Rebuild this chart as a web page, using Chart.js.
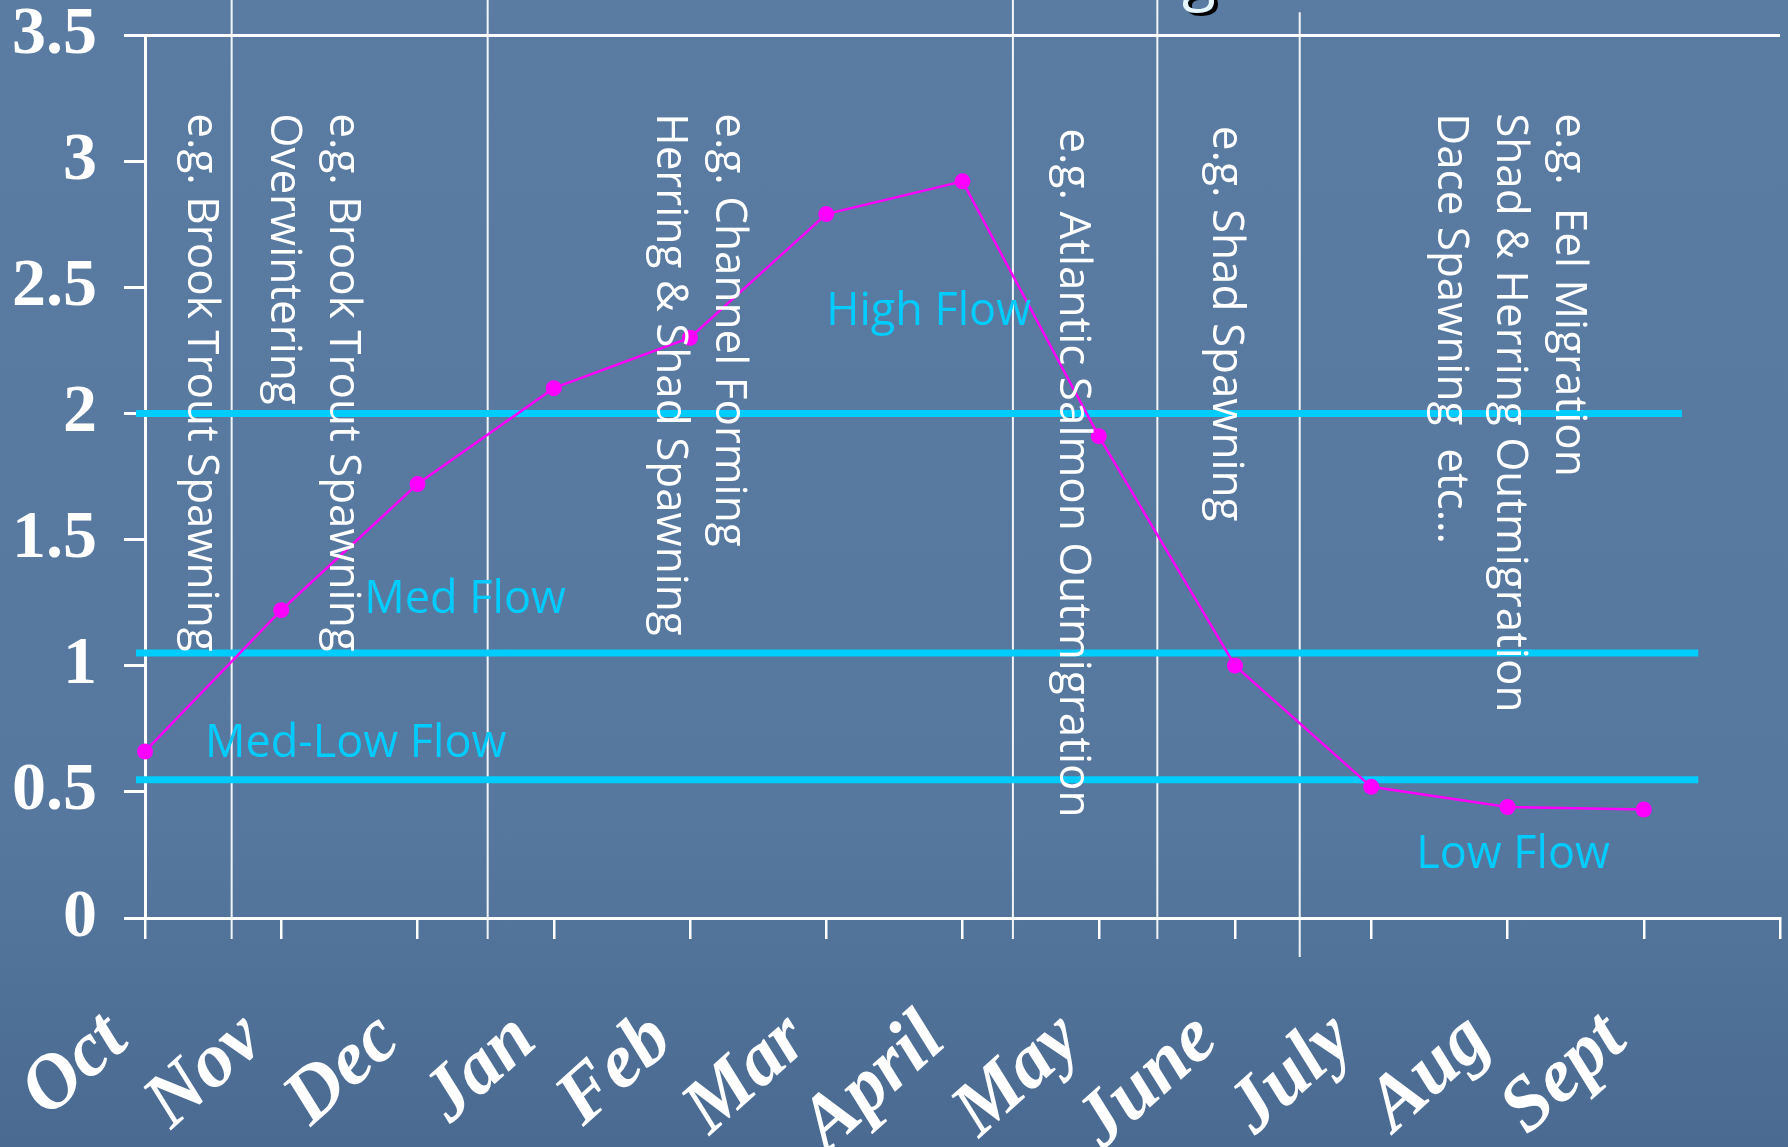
<!DOCTYPE html>
<html>
<head>
<meta charset="utf-8">
<script src="https://cdn.jsdelivr.net/npm/chart.js@4.4.1/dist/chart.umd.min.js"></script>
<style>
  html, body { margin: 0; padding: 0; }
  body {
    width: 1788px; height: 1147px; overflow: hidden;
    background: linear-gradient(180deg, #5a7ca2 0%, #56789e 72%, #4a6a91 100%);
  }
  #wrap { position: relative; width: 1788px; height: 1147px; }
</style>
</head>
<body>
<div id="wrap"><canvas id="c" width="1788" height="1147"></canvas></div>
<script>
// ---- data ----
const months = ['Oct', 'Nov', 'Dec', 'Jan', 'Feb', 'Mar', 'April', 'May', 'June', 'July', 'Aug', 'Sept', ''];
const flowValues = [0.66, 1.22, 1.72, 2.10, 2.30, 2.79, 2.92, 1.91, 1.00, 0.52, 0.44, 0.43];

const thresholdLevels = [2.0, 1.05, 0.548];
const thresholdStart = [-0.066, -0.066, -0.066];
const thresholdEnd = [11.28, 11.40, 11.40];

const flowLabels = ['High Flow', 'Med Flow', 'Med-Low Flow', 'Low Flow'];
const flowLabelX = [5.0, 1.61, 0.44, 9.33];
const flowLabelY = [2.35, 1.21, 0.64, 0.20];

const separatorX = [0.636, 2.515, 6.37, 7.43, 8.475];
const separatorTop = [3.64, 3.64, 3.64, 3.64, 3.59];
const separatorBottom = [-0.083, -0.083, -0.083, -0.083, -0.155];

const speciesNotes = [
  ['e.g. Brook Trout Spawning'],
  ['e.g. Brook Trout Spawning', 'Overwintering'],
  ['e.g. Channel Forming', 'Herring & Shad Spawning'],
  ['e.g. Atlantic Salmon Outmigration'],
  ['e.g. Shad Spawning'],
  ['e.g.  Eel Migration', 'Shad & Herring Outmigration', 'Dace Spawning  etc\u2026']
];
const noteX = [0.41, 1.45, 4.28, 6.81, 7.93, 10.45];
const noteTopY = [3.19, 3.19, 3.19, 3.13, 3.14, 3.19];

const titleFragment = 'g';

// ---- styles ----
const WHITE = '#ffffff';
const CYAN = '#00ccff';
const MAGENTA = '#ff00ff';
const NOTE_FONT = '44px "Open Sans", "DejaVu Sans", sans-serif';
const FLOW_FONT = '45px "Open Sans", "DejaVu Sans", sans-serif';
const TITLE_FONT = '62px "Open Sans", "DejaVu Sans", sans-serif';
const NOTE_LINE_GAP = 59;
const SERIF = '"Liberation Serif", "Times New Roman", serif';

const datasets = [];

separatorX.forEach((sx, i) => {
  datasets.push({
    type: 'line',
    data: [{ x: sx, y: separatorTop[i] }, { x: sx, y: separatorBottom[i] }],
    borderColor: 'rgba(255,255,255,0.92)',
    borderWidth: 2,
    pointRadius: 0,
    clip: false,
    order: 3
  });
});

thresholdLevels.forEach((lv, i) => {
  datasets.push({
    type: 'line',
    data: [{ x: thresholdStart[i], y: lv }, { x: thresholdEnd[i], y: lv }],
    borderColor: CYAN,
    borderWidth: 7,
    pointRadius: 0,
    clip: false,
    order: 2
  });
});

datasets.push({
  type: 'line',
  data: flowValues.map((v, i) => ({ x: i, y: v })),
  borderColor: MAGENTA,
  borderWidth: 2.5,
  pointRadius: 8,
  pointBackgroundColor: MAGENTA,
  pointBorderWidth: 0,
  clip: false,
  order: 1
});

const notesPlugin = {
  id: 'notes',
  afterDatasetsDraw(chart) {
    const { ctx, scales: { x, y } } = chart;
    ctx.save();
    ctx.fillStyle = WHITE;
    ctx.font = NOTE_FONT;
    ctx.textAlign = 'left';
    ctx.textBaseline = 'middle';
    speciesNotes.forEach((lines, i) => {
      const px = x.getPixelForValue(noteX[i]);
      const py = y.getPixelForValue(noteTopY[i]);
      ctx.save();
      ctx.translate(px, py);
      ctx.rotate(Math.PI / 2);
      lines.forEach((t, j) => ctx.fillText(t, 0, j * NOTE_LINE_GAP));
      ctx.restore();
    });
    ctx.fillStyle = CYAN;
    ctx.font = FLOW_FONT;
    ctx.textBaseline = 'alphabetic';
    flowLabels.forEach((t, i) => {
      ctx.fillText(t, x.getPixelForValue(flowLabelX[i]), y.getPixelForValue(flowLabelY[i]));
    });
    // cut-off slide title: only the descender of its last letter shows at the top edge
    ctx.font = TITLE_FONT;
    ctx.fillStyle = '#000000';
    ctx.fillText(titleFragment, 1186, 1);
    ctx.fillStyle = '#e6f6ff';
    ctx.fillText(titleFragment, 1182, -2);
    ctx.restore();
  }
};

new Chart(document.getElementById('c'), {
  type: 'line',
  data: { datasets },
  options: {
    responsive: false,
    animation: false,
    events: [],
    layout: { padding: { top: 35, right: 2, left: 0, bottom: 0 } },
    plugins: { legend: { display: false }, tooltip: { enabled: false }, title: { display: false } },
    scales: {
      x: {
        type: 'linear',
        min: 0, max: 12,
        border: { display: true, color: WHITE, width: 3 },
        grid: { display: true, drawOnChartArea: false, drawTicks: true, tickLength: 21, color: WHITE, lineWidth: 2.5 },
        ticks: {
          stepSize: 1, autoSkip: false, maxRotation: 42, minRotation: 42,
          padding: 56, labelOffset: -28, color: WHITE,
          font: { family: SERIF, size: 77, weight: 'bold', style: 'italic' },
          callback: (v) => (months[v] !== undefined ? months[v] : '')
        },
        afterFit(s) { s.height = 229; s.paddingLeft = 0; s.paddingRight = 0; }
      },
      y: {
        type: 'linear',
        min: 0, max: 3.5,
        border: { display: true, color: WHITE, width: 3 },
        grid: {
          drawOnChartArea: true, drawTicks: true, tickLength: 21, lineWidth: 3,
          color: (c) => (c.tick && c.tick.value === 3.5 ? WHITE : 'rgba(0,0,0,0)'),
          tickColor: WHITE
        },
        ticks: {
          stepSize: 0.5, padding: 27, color: WHITE,
          font: { family: SERIF, size: 68, weight: 'bold' },
          callback: (v) => String(Math.round(v * 10) / 10)
        },
        afterFit(s) { s.width = 145; s.paddingTop = 0; s.paddingBottom = 0; }
      }
    }
  },
  plugins: [notesPlugin]
});
</script>
</body>
</html>
